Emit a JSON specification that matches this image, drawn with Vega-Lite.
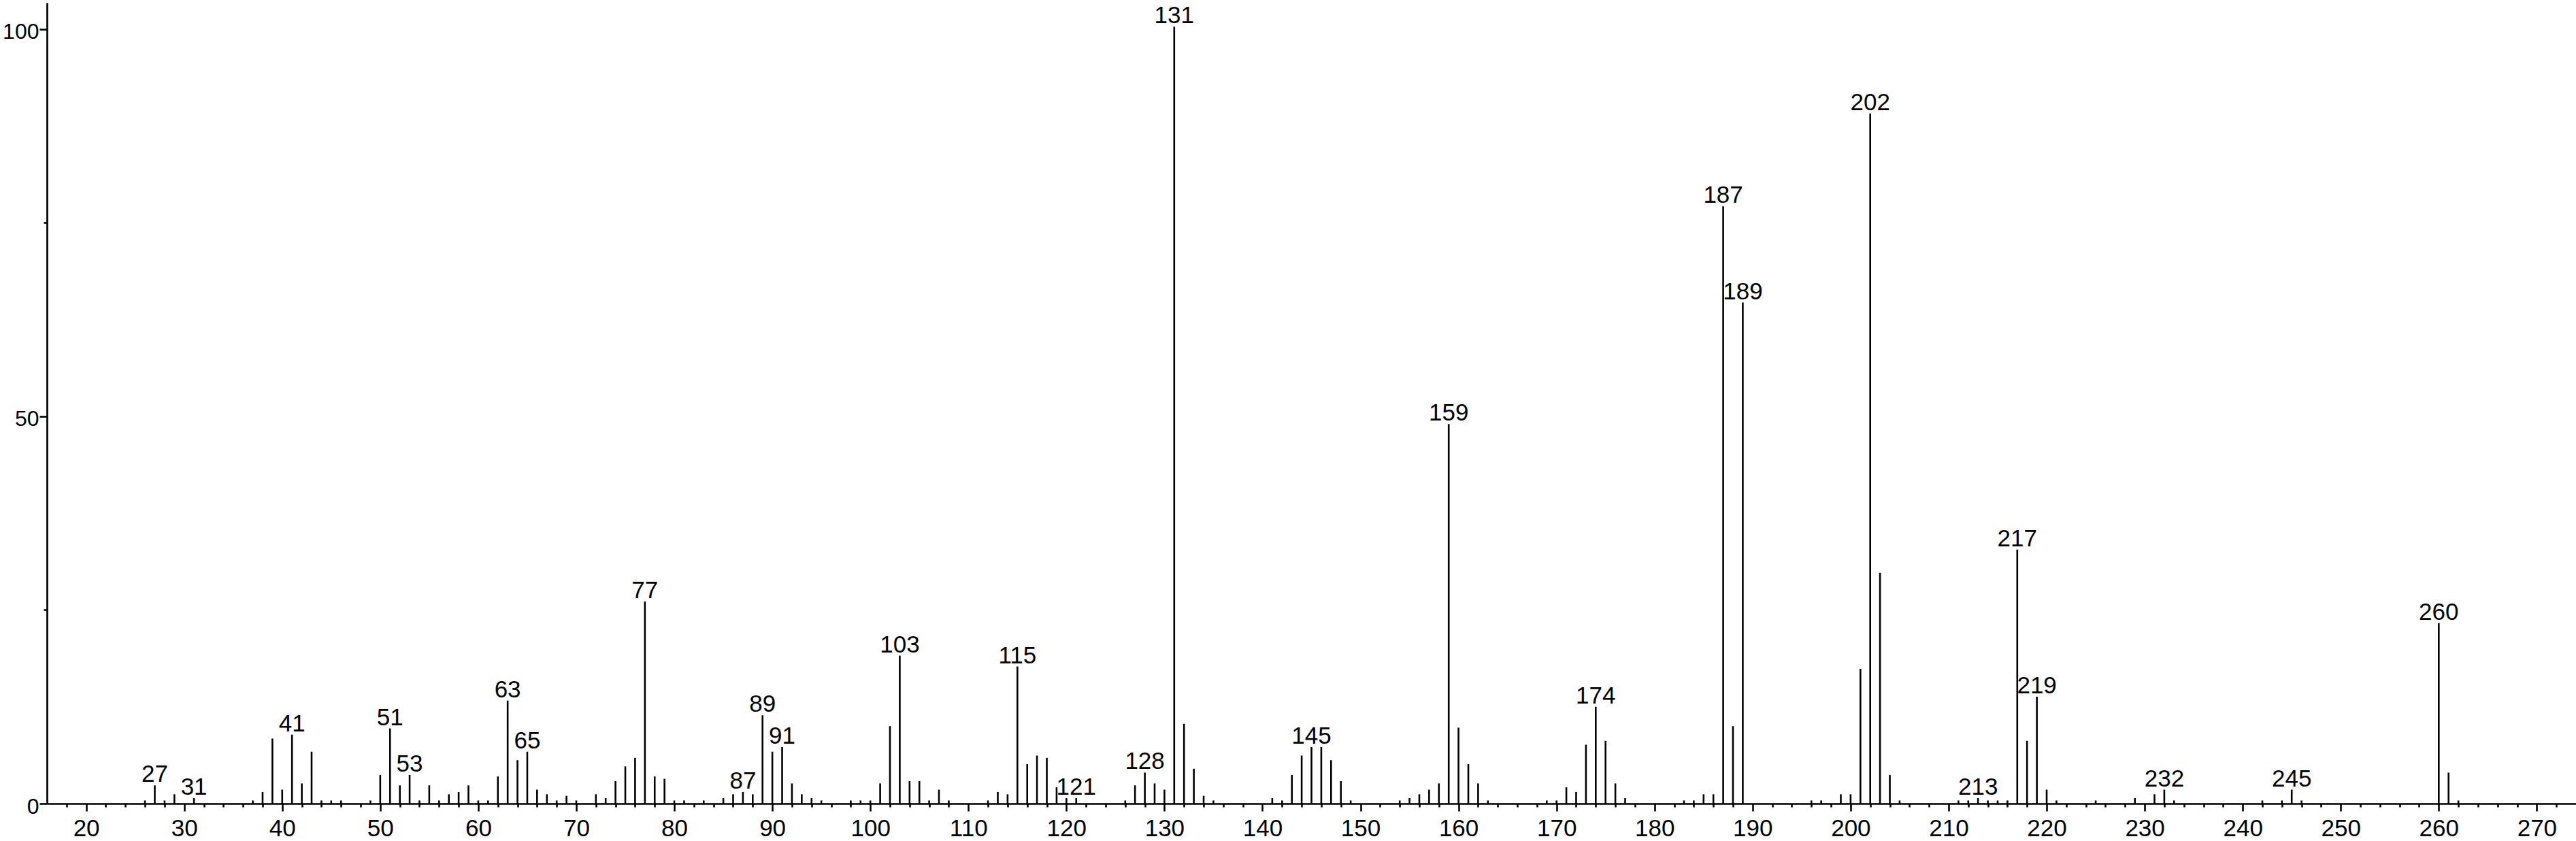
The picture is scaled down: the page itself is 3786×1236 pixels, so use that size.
{
 "$schema": "https://vega.github.io/schema/vega-lite/v6.json",
 "width": 3717,
 "height": 1177,
 "autosize": {"type": "none"},
 "padding": {"left": 69, "top": 4, "right": 0, "bottom": 55},
 "background": "white",
 "config": {
  "view": {"stroke": null},
  "axis": {"labelFont": "Liberation Sans Narrow, Liberation Sans, Arial, sans-serif", "labelColor": "black", "domainColor": "black", "tickColor": "black", "grid": false, "title": null}
 },
 "data": {"values": [
  {"mz":26,"i":0.4},{"mz":27,"i":2.35,"label":"27"},{"mz":28,"i":0.4},{"mz":29,"i":1.2},{"mz":31,"i":0.7,"label":"31"},
  {"mz":37,"i":0.4},{"mz":38,"i":1.5},{"mz":39,"i":8.4},{"mz":40,"i":1.8},{"mz":41,"i":8.9,"label":"41"},{"mz":42,"i":2.6},{"mz":43,"i":6.7},{"mz":44,"i":0.4},{"mz":45,"i":0.4},{"mz":46,"i":0.4},{"mz":49,"i":0.4},
  {"mz":50,"i":3.7},{"mz":51,"i":9.7,"label":"51"},{"mz":52,"i":2.35},{"mz":53,"i":3.7,"label":"53"},{"mz":54,"i":0.4},{"mz":55,"i":2.35},{"mz":56,"i":0.4},{"mz":57,"i":1.2},{"mz":58,"i":1.5},{"mz":59,"i":2.35},
  {"mz":60,"i":0.4},{"mz":61,"i":0.4},{"mz":62,"i":3.5},{"mz":63,"i":13.3,"label":"63"},{"mz":64,"i":5.6},{"mz":65,"i":6.7,"label":"65"},{"mz":66,"i":1.8},{"mz":67,"i":1.2},{"mz":68,"i":0.4},{"mz":69,"i":1.0},
  {"mz":70,"i":0.4},{"mz":72,"i":1.2},{"mz":73,"i":0.7},{"mz":74,"i":2.9},{"mz":75,"i":4.8},{"mz":76,"i":5.9},{"mz":77,"i":26.1,"label":"77"},{"mz":78,"i":3.5},{"mz":79,"i":3.2},
  {"mz":80,"i":0.4},{"mz":81,"i":0.4},{"mz":83,"i":0.4},{"mz":85,"i":0.7},{"mz":86,"i":1.2},{"mz":87,"i":1.5,"label":"87"},{"mz":88,"i":1.2},{"mz":89,"i":11.4,"label":"89"},
  {"mz":90,"i":6.7},{"mz":91,"i":7.3,"label":"91"},{"mz":92,"i":2.6},{"mz":93,"i":1.2},{"mz":94,"i":0.7},{"mz":95,"i":0.4},{"mz":98,"i":0.4},{"mz":99,"i":0.4},
  {"mz":100,"i":0.4},{"mz":101,"i":2.6},{"mz":102,"i":10.0},{"mz":103,"i":19.1,"label":"103"},{"mz":104,"i":2.9},{"mz":105,"i":2.9},{"mz":106,"i":0.4},{"mz":107,"i":1.8},{"mz":108,"i":0.4},
  {"mz":112,"i":0.4},{"mz":113,"i":1.5},{"mz":114,"i":1.2},{"mz":115,"i":17.7,"label":"115"},{"mz":116,"i":5.1},{"mz":117,"i":6.2},{"mz":118,"i":5.9},{"mz":119,"i":2.1},
  {"mz":120,"i":0.7},{"mz":121,"i":0.7,"label":"121"},{"mz":126,"i":0.4},{"mz":127,"i":2.35},{"mz":128,"i":4.0,"label":"128"},{"mz":129,"i":2.6},
  {"mz":130,"i":1.8},{"mz":131,"i":100.3,"label":"131"},{"mz":132,"i":10.3},{"mz":133,"i":4.5},{"mz":134,"i":1.0},{"mz":135,"i":0.4},
  {"mz":141,"i":0.7},{"mz":142,"i":0.4},{"mz":143,"i":3.7},{"mz":144,"i":6.2},{"mz":145,"i":7.3,"label":"145"},{"mz":146,"i":7.3},{"mz":147,"i":5.6},{"mz":148,"i":2.9},{"mz":149,"i":0.4},
  {"mz":154,"i":0.4},{"mz":155,"i":0.7},{"mz":156,"i":1.2},{"mz":157,"i":1.8},{"mz":158,"i":2.6},{"mz":159,"i":49.0,"label":"159"},
  {"mz":160,"i":9.8},{"mz":161,"i":5.1},{"mz":162,"i":2.6},{"mz":163,"i":0.4},{"mz":169,"i":0.4},
  {"mz":170,"i":0.4},{"mz":171,"i":2.1},{"mz":172,"i":1.5},{"mz":173,"i":7.6},{"mz":174,"i":12.5,"label":"174"},{"mz":175,"i":8.1},{"mz":176,"i":2.6},{"mz":177,"i":0.7},
  {"mz":183,"i":0.4},{"mz":184,"i":0.4},{"mz":185,"i":1.2},{"mz":186,"i":1.2},{"mz":187,"i":77.1,"label":"187"},{"mz":188,"i":10.0},{"mz":189,"i":64.7,"label":"189"},
  {"mz":196,"i":0.4},{"mz":197,"i":0.4},{"mz":199,"i":1.2},{"mz":200,"i":1.2},{"mz":201,"i":17.4},{"mz":202,"i":89.1,"label":"202"},{"mz":203,"i":29.8},{"mz":204,"i":3.7},{"mz":205,"i":0.4},
  {"mz":211,"i":0.4},{"mz":212,"i":0.4},{"mz":213,"i":0.7,"label":"213"},{"mz":214,"i":0.4},{"mz":215,"i":0.4},{"mz":216,"i":0.4},{"mz":217,"i":32.8,"label":"217"},{"mz":218,"i":8.1},{"mz":219,"i":13.8,"label":"219"},
  {"mz":220,"i":1.8},{"mz":221,"i":0.4},{"mz":225,"i":0.4},{"mz":229,"i":0.7},{"mz":231,"i":1.2},{"mz":232,"i":1.8,"label":"232"},{"mz":233,"i":0.4},
  {"mz":242,"i":0.4},{"mz":244,"i":0.4},{"mz":245,"i":1.8,"label":"245"},{"mz":246,"i":0.4},
  {"mz":260,"i":23.3,"label":"260"},{"mz":261,"i":4.0},{"mz":262,"i":0.4}
 ]},
 "resolve": {"axis": {"x": "independent", "y": "independent"}},
 "layer": [
  {
   "mark": {"type": "rule", "color": "black", "strokeWidth": 2.6},
   "encoding": {
    "x": {"field": "mz", "type": "quantitative",
     "scale": {"domain": [16, 274], "nice": false, "zero": false},
     "axis": {"orient": "bottom", "values": [20,30,40,50,60,70,80,90,100,110,120,130,140,150,160,170,180,190,200,210,220,230,240,250,260,270],
      "tickSize": 11, "tickWidth": 2.6, "domainWidth": 2.7, "labelFontSize": 35, "labelPadding": 8, "labelOverlap": false, "labelFlush": false}},
    "y": {"field": "i", "type": "quantitative",
     "scale": {"domain": [0, 103.4], "nice": false},
     "axis": {"orient": "left", "values": [0, 50, 100], "tickSize": 11, "tickWidth": 2.6, "domainWidth": 2.7, "labelFontSize": 32, "labelPadding": 1, "labelOffset": 4}},
    "y2": {"datum": 0}
   }
  },
  {
   "transform": [{"filter": "isValid(datum.label)"}],
   "mark": {"type": "text", "color": "black", "baseline": "alphabetic", "dy": -5, "font": "Liberation Sans Narrow, Liberation Sans, Arial, sans-serif", "fontSize": 35},
   "encoding": {
    "x": {"field": "mz", "type": "quantitative",
     "axis": {"orient": "bottom", "values": [18,22,24,26,28,32,34,36,38,42,44,46,48,52,54,56,58,62,64,66,68,72,74,76,78,82,84,86,88,92,94,96,98,102,104,106,108,112,114,116,118,122,124,126,128,132,134,136,138,142,144,146,148,152,154,156,158,162,164,166,168,172,174,176,178,182,184,186,188,192,194,196,198,202,204,206,208,212,214,216,218,222,224,226,228,232,234,236,238,242,244,246,248,252,254,256,258,262,264,266,268,272],
      "tickSize": 5, "tickWidth": 2.6, "domain": false, "labels": false}},
    "y": {"field": "i", "type": "quantitative",
     "axis": {"orient": "left", "values": [25, 75], "tickSize": 5, "tickWidth": 2.6, "domain": false, "labels": false}},
    "text": {"field": "label"}
   }
  }
 ]
}
